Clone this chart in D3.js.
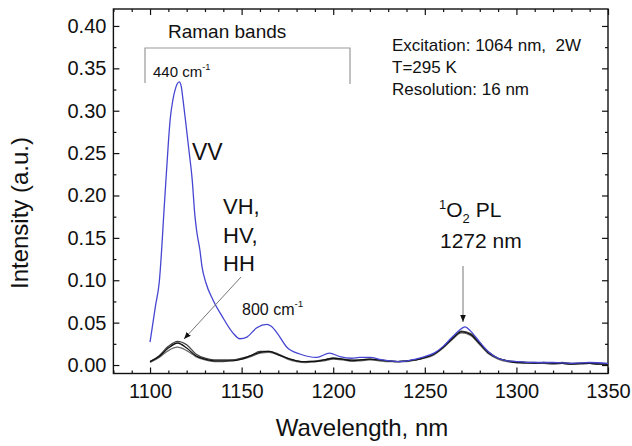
<!DOCTYPE html>
<html>
<head>
<meta charset="utf-8">
<script src="https://cdn.jsdelivr.net/npm/d3@7"></script>
<style>
  html, body { margin: 0; padding: 0; background: #fff; }
  svg text { font-family: Arial, "Liberation Sans", sans-serif; fill: #111; }
</style>
</head>
<body>
<svg id="chart" width="632" height="446"></svg>
<script>
// ---------------- data ----------------
const xTickValues = [1100, 1150, 1200, 1250, 1300, 1350];
const yTickValues = [0.00, 0.05, 0.10, 0.15, 0.20, 0.25, 0.30, 0.35, 0.40];

// VV (blue) spectrum
const vvWavelength = [1100, 1103, 1105, 1108, 1110, 1111, 1112.5, 1114, 1116, 1117, 1118, 1119.6, 1121.2, 1123,
  1124.5, 1125.6, 1127.2, 1128.3, 1130.5, 1134.3, 1139.2, 1145.2, 1149, 1152.9, 1158.3, 1163.8, 1166, 1169.3,
  1174.7, 1181.8, 1191, 1198, 1203.6, 1210, 1214.5, 1220, 1227, 1236, 1245, 1250, 1255, 1260, 1265, 1270,
  1272, 1275, 1280, 1285, 1290, 1295, 1300, 1310, 1320, 1330, 1340, 1350];
const vvIntensity = [0.027, 0.070, 0.097, 0.195, 0.262, 0.290, 0.313, 0.327, 0.334, 0.329, 0.313, 0.284, 0.254, 0.219,
  0.176, 0.156, 0.136, 0.117, 0.097, 0.077, 0.058, 0.038, 0.031, 0.033, 0.044, 0.048, 0.046, 0.038,
  0.021, 0.013, 0.009, 0.014, 0.010, 0.008, 0.009, 0.009, 0.006, 0.004, 0.007, 0.010, 0.014, 0.022, 0.033, 0.043,
  0.045, 0.040, 0.027, 0.015, 0.008, 0.005, 0.004, 0.003, 0.003, 0.002, 0.003, 0.002];

// VH, HV, HH (black/grey) spectra
const crossWavelength = [1100, 1105, 1110, 1115, 1120, 1125, 1130, 1135, 1140, 1145, 1150, 1155, 1160, 1165, 1170,
  1175, 1180, 1185, 1190, 1195, 1200, 1205, 1210, 1215, 1220, 1225, 1230, 1235, 1240, 1245, 1250, 1255, 1260,
  1265, 1270, 1275, 1280, 1285, 1290, 1295, 1300, 1305, 1310, 1315, 1320, 1325, 1330, 1335, 1340, 1345, 1350];
const vhIntensity = [0.004, 0.010, 0.020, 0.026, 0.020, 0.011, 0.007, 0.005, 0.005, 0.005, 0.007, 0.011, 0.015, 0.016, 0.012,
  0.008, 0.005, 0.004, 0.004, 0.006, 0.008, 0.007, 0.005, 0.006, 0.007, 0.006, 0.005, 0.004, 0.005, 0.006, 0.009, 0.013, 0.021,
  0.031, 0.039, 0.036, 0.025, 0.014, 0.008, 0.005, 0.003, 0.003, 0.002, 0.003, 0.002, 0.002, 0.001, 0.002, 0.002, 0.001, 0.001];
const hvIntensity = [0.003, 0.009, 0.017, 0.021, 0.017, 0.010, 0.006, 0.004, 0.004, 0.006, 0.007, 0.010, 0.014, 0.015, 0.012,
  0.007, 0.004, 0.003, 0.004, 0.005, 0.007, 0.006, 0.005, 0.005, 0.006, 0.005, 0.004, 0.004, 0.004, 0.006, 0.008, 0.012, 0.020,
  0.030, 0.038, 0.035, 0.024, 0.013, 0.007, 0.004, 0.003, 0.002, 0.002, 0.002, 0.001, 0.002, 0.001, 0.001, 0.002, 0.001, 0.001];
const hhIntensity = [0.004, 0.011, 0.022, 0.028, 0.024, 0.013, 0.008, 0.006, 0.006, 0.006, 0.008, 0.011, 0.016, 0.016, 0.013,
  0.008, 0.005, 0.004, 0.005, 0.006, 0.008, 0.007, 0.006, 0.006, 0.007, 0.006, 0.005, 0.004, 0.005, 0.006, 0.009, 0.013, 0.021,
  0.032, 0.040, 0.037, 0.026, 0.015, 0.008, 0.005, 0.004, 0.003, 0.003, 0.002, 0.002, 0.003, 0.002, 0.002, 0.002, 0.002, 0.001];

// ---------------- layout ----------------
const svg = d3.select("#chart");
const L = 113.4, R = 608, T = 9, B = 373.5;
const x = d3.scaleLinear().domain([1080, 1350]).range([L, R]);
const y = d3.scaleLinear().domain([-0.01, 0.42]).range([B, T]);

const minorX = d3.range(1080, 1351, 10).filter(v => v % 50 !== 0);
const minorY = d3.range(0, 0.4201, 0.025).filter((v, i) => i % 2 === 1);

function styleAxis(g) {
  g.select(".domain").remove();
  g.selectAll(".tick line").attr("stroke", "#111").attr("stroke-width", 1.2);
}

// bottom axis
svg.append("g").attr("transform", `translate(0,${B})`)
  .call(d3.axisBottom(x).tickValues(xTickValues).tickSize(-6).tickSizeOuter(0).tickPadding(10).tickFormat(d3.format("d")))
  .call(styleAxis)
  .call(g => g.selectAll("text").attr("font-size", 20).style("font-family", "Arial, 'Liberation Sans'"));
svg.append("g").attr("transform", `translate(0,${B})`)
  .call(d3.axisBottom(x).tickValues(minorX).tickSize(-3).tickSizeOuter(0).tickFormat(""))
  .call(styleAxis);
// top axis
svg.append("g").attr("transform", `translate(0,${T})`)
  .call(d3.axisTop(x).tickValues(xTickValues).tickSize(-6).tickSizeOuter(0).tickFormat(""))
  .call(styleAxis);
svg.append("g").attr("transform", `translate(0,${T})`)
  .call(d3.axisTop(x).tickValues(minorX).tickSize(-3).tickSizeOuter(0).tickFormat(""))
  .call(styleAxis);
// left axis
svg.append("g").attr("transform", `translate(${L},0)`)
  .call(d3.axisLeft(y).tickValues(yTickValues).tickSize(-6).tickSizeOuter(0).tickPadding(7).tickFormat(d3.format(".2f")))
  .call(styleAxis)
  .call(g => g.selectAll("text").attr("font-size", 20).style("font-family", "Arial, 'Liberation Sans'"));
svg.append("g").attr("transform", `translate(${L},0)`)
  .call(d3.axisLeft(y).tickValues(minorY).tickSize(-3).tickSizeOuter(0).tickFormat(""))
  .call(styleAxis);
// right axis
svg.append("g").attr("transform", `translate(${R},0)`)
  .call(d3.axisRight(y).tickValues(yTickValues).tickSize(-6).tickSizeOuter(0).tickFormat(""))
  .call(styleAxis);
svg.append("g").attr("transform", `translate(${R},0)`)
  .call(d3.axisRight(y).tickValues(minorY).tickSize(-3).tickSizeOuter(0).tickFormat(""))
  .call(styleAxis);

// frame
svg.append("rect").attr("x", L).attr("y", T).attr("width", R - L).attr("height", B - T)
  .attr("fill", "none").attr("stroke", "#111").attr("stroke-width", 1.4);

// ---------------- series ----------------
const line = d3.line().x(d => x(d[0])).y(d => y(d[1])).curve(d3.curveMonotoneX);
const crossSeries = [
  { vals: hvIntensity, color: "#6a6a6a" },
  { vals: hhIntensity, color: "#444" },
  { vals: vhIntensity, color: "#111" }
];
crossSeries.forEach(s => {
  svg.append("path").datum(d3.zip(crossWavelength, s.vals))
    .attr("d", line).attr("fill", "none").attr("stroke", s.color).attr("stroke-width", 1.3);
});
svg.append("path").datum(d3.zip(vvWavelength, vvIntensity))
  .attr("d", line).attr("fill", "none").attr("stroke", "#4646d2").attr("stroke-width", 1.3);

// ---------------- annotations ----------------
svg.append("defs").append("marker").attr("id", "ah")
  .attr("viewBox", "0 0 10 10").attr("refX", 10).attr("refY", 5)
  .attr("markerWidth", 7).attr("markerHeight", 7).attr("orient", "auto")
  .append("path").attr("d", "M0,1 L10,5 L0,9 Z").attr("fill", "#111");

// Raman bracket
svg.append("path").attr("d", "M145,83 L145,48 L350,48 L350,84")
  .attr("fill", "none").attr("stroke", "#999").attr("stroke-width", 1.2);
svg.append("text").attr("x", 168).attr("y", 38).attr("font-size", 19).text("Raman bands");

function cmLabel(xp, yp, fs, num) {
  const t = svg.append("text").attr("x", xp).attr("y", yp).attr("font-size", fs);
  t.append("tspan").text(num + " cm");
  t.append("tspan").attr("font-size", fs * 0.62).attr("dy", -fs * 0.5).text("-1");
}
cmLabel(153, 77, 15, "440");
cmLabel(242, 315, 16, "800");

svg.append("text").attr("x", 192).attr("y", 160).attr("font-size", 23).text("VV");
["VH,", "HV,", "HH"].forEach((s, i) => {
  svg.append("text").attr("x", 223).attr("y", [214, 243, 271][i]).attr("font-size", 22).text(s);
});
svg.append("line").attr("x1", 241).attr("y1", 277).attr("x2", 184).attr("y2", 339)
  .attr("stroke", "#777").attr("stroke-width", 1).attr("marker-end", "url(#ah)");

// info block
[["Excitation: 1064 nm,\u00a0 2W", 51], ["T=295 K", 73], ["Resolution: 16 nm", 95]].forEach(([s, yy]) => {
  svg.append("text").attr("x", 392).attr("y", yy).attr("font-size", 17).text(s);
});

// 1O2 PL label
const pl = svg.append("text").attr("x", 439).attr("y", 217).attr("font-size", 21);
pl.append("tspan").attr("font-size", 13).attr("dy", -8).text("1");
pl.append("tspan").attr("dy", 8).text("O");
pl.append("tspan").attr("font-size", 13).attr("dy", 6).text("2");
pl.append("tspan").attr("dy", -6).text(" PL");
svg.append("text").attr("x", 440).attr("y", 248).attr("font-size", 21).text("1272 nm");
svg.append("line").attr("x1", 463).attr("y1", 266).attr("x2", 463).attr("y2", 322)
  .attr("stroke", "#777").attr("stroke-width", 1).attr("marker-end", "url(#ah)");

// axis titles
svg.append("text").attr("x", 362).attr("y", 436).attr("text-anchor", "middle").attr("font-size", 24).text("Wavelength, nm");
svg.append("text").attr("transform", "translate(28,213) rotate(-90)").attr("text-anchor", "middle")
  .attr("font-size", 24).text("Intensity (a.u.)");
</script>
</body>
</html>
